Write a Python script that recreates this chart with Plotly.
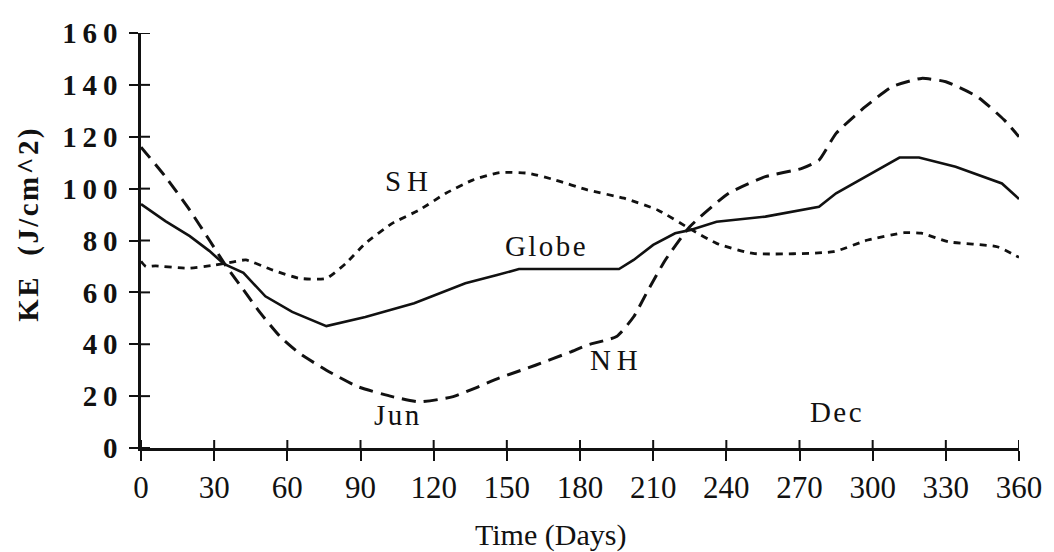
import plotly.graph_objects as go

# Seasonal kinetic energy (J/cm^2) over the year
globe_days = [0, 10, 20, 28, 34, 42, 51, 62, 76, 92, 112, 133, 146, 155, 196, 202,
              210, 219, 225, 236, 256, 278, 285, 300, 311, 319, 334, 353, 360]
globe_ke = [94, 87.5, 81.7, 76, 71, 67.5, 58.5, 52.5, 47, 50.5, 55.8, 63.5, 66.7, 69, 69, 72.5,
            78.3, 82.8, 84, 87.2, 89.2, 93, 98.2, 106, 112, 112, 108.4, 102, 96]

nh_days = [0, 10, 20, 28, 35, 42, 49, 57, 65, 76, 89, 103, 114, 128, 147, 162, 176, 183,
           195, 202, 208, 215, 225, 241, 256, 271, 278, 285, 297, 308, 320, 330, 343, 354, 360]
nh_ke = [116, 104.6, 91.7, 80.2, 70, 61, 52, 43, 36.5, 30, 23.6, 19.8, 17.8, 19.8, 27, 32, 37, 39.7,
         43, 50.6, 61, 72.5, 85.3, 98.2, 104.6, 107.8, 111, 121.3, 131.6, 139.3, 142.5, 141.2, 135.4, 126.4, 120]

sh_days = [0, 2, 6, 19, 30, 38, 43, 54, 65, 76, 84, 92, 103, 114, 125, 136, 147, 159, 170,
           183, 198, 212, 226, 236, 251, 284, 298, 313, 320, 331, 351, 360]
sh_ke = [72, 70, 70.2, 69.3, 70.5, 71.8, 72.5, 68.6, 65.4, 65.4, 71.2, 78.9, 86.6, 91.7, 98.2, 103.3, 106.2,
         105.9, 103.3, 99.5, 96.3, 91.7, 84, 78.9, 75, 75.7, 80.2, 83, 82.8, 79.5, 77.6, 73.5]

x_ticks = list(range(0, 361, 30))
y_ticks = list(range(0, 161, 20))

HAIR = "\u200a"
THIN = "\u2009"

# in-plot labels: (text, day, KE)
labels = [
    ("S" + THIN + "H", 109, 103),
    (HAIR.join("Globe"), 166, 78),
    ("N" + THIN + "H", 194, 34),
    (HAIR.join("Jun"), 105, 12.7),
    (HAIR.join("Dec"), 285, 13.9),
]

SERIF = "Liberation Serif, Times New Roman, serif"
INK = "#111111"

fig = go.Figure()
fig.add_trace(go.Scatter(x=nh_days, y=nh_ke, mode="lines", name="NH",
                         line=dict(color=INK, width=3, dash="14px,8px", shape="spline", smoothing=0.5)))
fig.add_trace(go.Scatter(x=sh_days, y=sh_ke, mode="lines", name="SH",
                         line=dict(color=INK, width=2.8, dash="7px,6px", shape="spline", smoothing=0.5)))
fig.add_trace(go.Scatter(x=globe_days, y=globe_ke, mode="lines", name="Globe",
                         line=dict(color=INK, width=2.6)))

for text, d, k in labels:
    fig.add_annotation(x=d, y=k, text=text, showarrow=False,
                       font=dict(family=SERIF, size=29, color=INK))

fig.add_annotation(xref="paper", yref="paper", x=0.466, y=-0.21, text="Time (Days)",
                   showarrow=False, xanchor="center", yanchor="middle",
                   font=dict(family=SERIF, size=30, color=INK))
fig.add_annotation(xref="paper", yref="paper", x=-0.128, y=0.537,
                   text="<b>" + HAIR.join("KE  (J/cm^2)") + "</b>", textangle=-90,
                   showarrow=False, xanchor="center", yanchor="middle",
                   font=dict(family=SERIF, size=29, color=INK))

# Tick marks cross the axis lines: the axes draw the outward half, and short
# pixel-sized segments anchored at each tick value draw the inward half.
for v in x_ticks:
    fig.add_shape(type="line", xref="x", yref="y", x0=v, x1=v,
                  ysizemode="pixel", yanchor=0, y0=0, y1=8,
                  line=dict(color=INK, width=2))
for v in y_ticks:
    fig.add_shape(type="line", xref="x", yref="y", y0=v, y1=v,
                  xsizemode="pixel", xanchor=0, x0=0, x1=9,
                  line=dict(color=INK, width=2))

fig.update_layout(
    width=1054, height=552,
    margin=dict(l=141, r=31, t=33, b=104),
    paper_bgcolor="white", plot_bgcolor="white",
    showlegend=False,
    xaxis=dict(range=[0, 360], tickvals=x_ticks, ticktext=[str(v) for v in x_ticks],
               ticks="outside", ticklen=10, tickwidth=2, tickcolor=INK,
               showline=True, linecolor=INK, linewidth=2.5,
               showgrid=False, zeroline=False, ticklabelstandoff=0,
               tickfont=dict(family=SERIF, size=31, color=INK)),
    yaxis=dict(range=[0, 160], tickvals=y_ticks,
               ticktext=["<b>" + THIN.join(str(v)) + "</b>" for v in y_ticks],
               ticks="outside", ticklen=9, tickwidth=2, tickcolor=INK,
               showline=True, linecolor=INK, linewidth=2.5,
               showgrid=False, zeroline=False, ticklabelstandoff=6,
               tickfont=dict(family=SERIF, size=29, color=INK)),
)

fig.write_html("out.html")
